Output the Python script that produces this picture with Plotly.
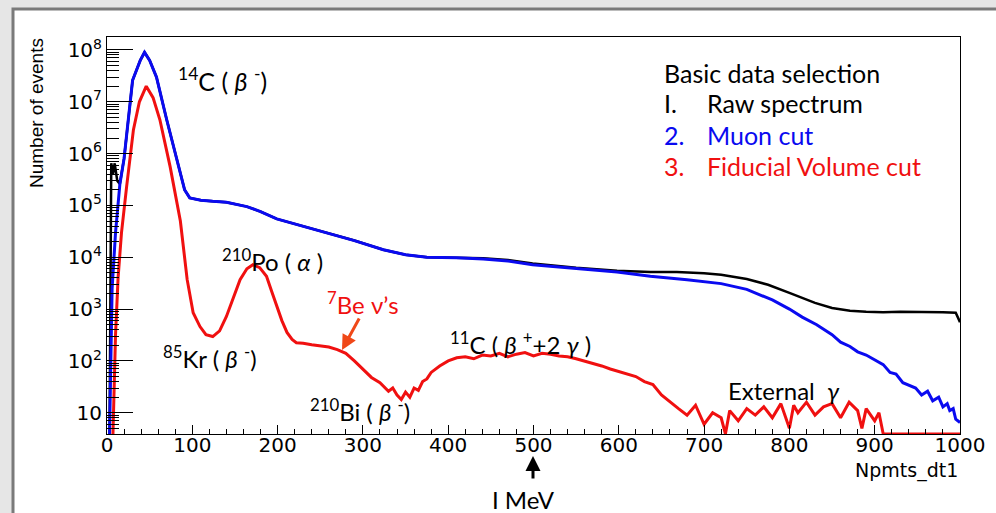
import plotly.graph_objects as go

# ---------------- data ----------------
raw_x = [3, 4, 5, 7, 9, 12, 15, 20, 25, 30, 39, 44, 50, 58, 70, 82, 91, 97, 110, 124, 140, 164, 180,
         199, 225, 250, 290, 324, 350, 375, 410, 441, 470, 499, 550, 598, 637, 668, 700, 720, 750,
         775, 800, 830, 850, 871, 890, 910, 930, 957, 980, 995, 1000]
raw_y = [3.9, 1.0e3, 6.5e5, 4.0e5, 6.5e5, 3.0e5, 2.6e5, 8.0e5, 4.0e6, 2.6e7, 6.3e7, 9.0e7, 6.3e7, 3.0e7,
         4.5e6, 7.6e5, 2.0e5, 1.4e5, 1.26e5, 1.2e5, 1.15e5, 9.5e4, 7.6e4,
         5.5e4, 4.2e4, 3.2e4, 2.1e4, 1.4e4, 1.12e4, 1.0e4, 9.9e3, 9.6e3, 8.9e3, 7.6e3, 6.3e3, 5.5e3,
         5.2e3, 5.2e3, 4.9e3, 4.6e3, 3.8e3, 2.95e3, 2.05e3, 1.32e3, 1.05e3, 9.3e2, 8.9e2, 8.7e2,
         8.9e2, 8.9e2, 8.7e2, 8.5e2, 5.6e2]

muon_x = [3, 6, 10, 15, 20, 25, 30, 39, 44, 50, 58, 70, 82, 91, 97, 110, 124, 140, 164, 180, 199,
          225, 250, 290, 324, 350, 375, 410, 441, 470, 499, 550, 598, 637, 680, 720, 750, 780, 800,
          815, 832, 850, 860, 871, 880, 890, 900, 910, 918, 925, 933, 941, 948, 955, 962, 968, 975,
          980, 985, 988, 992, 995, 1000]
muon_y = [3.9, 2.5e3, 3.0e4, 2.5e5, 8.0e5, 4.0e6, 2.6e7, 6.3e7, 9.0e7, 6.3e7, 3.0e7, 4.5e6, 7.6e5,
          2.0e5, 1.4e5, 1.26e5, 1.2e5, 1.15e5, 9.5e4, 7.6e4, 5.5e4,
          4.2e4, 3.2e4, 2.1e4, 1.4e4, 1.12e4, 1.0e4, 9.8e3, 9.3e3, 8.5e3, 7.2e3, 6.0e3, 5.2e3, 4.3e3,
          3.7e3, 3.1e3, 2.4e3, 1.5e3, 1.0e3,
          7.0e2, 5.0e2, 3.2e2, 2.3e2, 1.9e2, 1.5e2, 1.3e2, 1.05e2, 8.5e1, 6.0e1, 5.6e1, 3.8e1, 3.4e1,
          3.0e1, 2.2e1, 2.6e1, 1.7e1, 2.0e1, 1.3e1, 1.5e1, 1.1e1, 1.2e1, 7.5, 6.5]

fv_x = [7, 10, 13, 17, 23, 31, 38, 46, 54, 62, 74, 86, 94, 101, 109, 116, 124, 132, 140, 148, 156,
        164, 171, 179, 187, 193, 199, 205, 211, 217, 222, 230, 240, 250, 260, 270, 280, 290, 300,
        310, 320, 330, 335, 340, 345, 350, 355, 360, 365, 370, 375, 380, 390, 400, 410, 420, 430,
        440, 450, 460, 470, 480, 490, 500, 510, 520, 530, 540, 550, 560, 570, 580, 590, 600, 610,
        620, 630, 640, 650, 660, 670, 680, 690, 700, 710, 720, 725, 730, 740, 750, 760, 770, 780,
        790, 800, 805, 810, 820, 830, 840, 850, 860, 870, 880, 885, 890, 900, 905, 910, 920, 1000]
fv_y = [3.9, 3.2e2, 4.0e3, 3.0e4, 2.3e5, 2.9e6, 1.0e7, 2.0e7, 1.2e7, 4.5e6, 5.6e5, 5.0e4, 3.7e3,
        8.5e2, 4.6e2, 3.2e2, 2.95e2, 3.8e2, 7.2e2, 1.6e3, 3.7e3,
        6.0e3, 7.2e3, 6.3e3, 4.3e3, 2.2e3, 1.1e3, 6.0e2, 3.55e2, 2.6e2, 2.25e2, 2.2e2, 2.05e2, 1.95e2,
        1.85e2, 1.65e2, 1.4e2, 1.0e2, 7.0e1,
        4.8e1, 3.8e1, 2.6e1, 3.0e1, 2.2e1, 1.8e1, 2.5e1, 2.0e1, 3.0e1, 2.7e1, 4.0e1, 4.5e1, 6.0e1,
        8.0e1, 1.0e2, 1.15e2, 1.2e2, 1.1e2,
        1.3e2, 1.25e2, 1.4e2, 1.2e2, 1.35e2, 1.45e2, 1.25e2, 1.4e2, 1.35e2, 1.25e2, 1.2e2, 1.1e2,
        1.0e2, 9.0e1, 8.0e1, 7.0e1, 6.2e1, 5.5e1,
        5.0e1, 4.0e1, 3.5e1, 2.2e1, 1.6e1, 1.2e1, 9.0, 1.4e1, 6.0, 1.0e1, 8.0, 3.9, 1.1e1, 7.0, 1.2e1,
        9.0, 1.3e1, 8.0,
        1.5e1, 5.0, 1.4e1, 1.0e1, 1.6e1, 9.0, 1.3e1, 1.5e1, 8.0, 1.6e1, 1.1e1, 5.0, 1.2e1, 7.0, 1.0e1,
        3.9, 3.9, 3.9]

y_tickvals = [10, 1e2, 1e3, 1e4, 1e5, 1e6, 1e7, 1e8]
y_ticktext = ["10", "10<sup>2</sup>", "10<sup>3</sup>", "10<sup>4</sup>", "10<sup>5</sup>",
              "10<sup>6</sup>", "10<sup>7</sup>", "10<sup>8</sup>"]
y_minor = [m * 10 ** e for e in range(0, 9) for m in range(2, 10)]

# ---------------- figure ----------------
L, R, T, B = 107, 36, 37, 79
W, H = 996, 513
PW, PH = W - L - R, H - T - B


def px(xp):
    return (xp - L) / PW


def py(yp):
    return (H - B - yp) / PH


fig = go.Figure()
fig.add_trace(go.Scatter(x=raw_x, y=raw_y, mode="lines", line=dict(color="#000000", width=2.5),
                         name="Raw spectrum"))
fig.add_trace(go.Scatter(x=muon_x, y=muon_y, mode="lines", line=dict(color="#0a0af0", width=3),
                         name="Muon cut"))
fig.add_trace(go.Scatter(x=fv_x, y=fv_y, mode="lines", line=dict(color="#f01010", width=3),
                         name="Fiducial Volume cut"))

ann_font = "Lato, Open Sans, sans-serif"
tick_font = dict(family="DejaVu Sans", size=20, color="#000")

annotations = []


def label(text, xpix, ypix, size=24, color="#000", xanchor="left", family=ann_font):
    annotations.append(dict(x=px(xpix), y=py(ypix), xref="paper", yref="paper", text=text,
                            showarrow=False, xanchor=xanchor, yanchor="middle",
                            font=dict(family=family, size=size, color=color)))


label("<sup>14</sup>C ( <i>β</i> <sup>-</sup>)", 176, 80, size=25)
label("<sup>210</sup>Po ( <i>α</i> )", 220, 260)
label("<sup>85</sup>Kr ( <i>β</i> <sup>-</sup>)", 161, 357)
label("<sup>7</sup>Be ν’s", 325, 303, color="#f01010")
label("<sup>11</sup>C ( <i>β</i> <sup>+</sup>+2 <i>γ</i> )", 448, 343)
label("<sup>210</sup>Bi ( <i>β</i> <sup>-</sup>)", 308, 410)
label("External  <i>γ</i>", 726, 390)
label("I MeV", 523, 500, xanchor="center")

LS = 25
label("Basic data selection", 662, 73, size=LS)
label("I.", 662, 103, size=LS)
label("Raw spectrum", 705, 103, size=LS)
label("2.", 662, 135, size=LS, color="#0a0af0")
label("Muon cut", 705, 135, size=LS, color="#0a0af0")
label("3.", 662, 166, size=LS, color="#f01010")
label("Fiducial Volume cut", 705, 166, size=LS, color="#f01010")

label("Npmts_dt1", 960, 470, size=19, xanchor="right", family="DejaVu Sans")
annotations.append(dict(x=px(36), y=py(113), xref="paper", yref="paper", text="Number of events",
                        showarrow=False, textangle=-90, xanchor="center", yanchor="middle",
                        font=dict(family="Liberation Sans Narrow, Liberation Sans", size=19,
                                  color="#000")))

# arrows
annotations.append(dict(x=px(342), y=py(350), xref="paper", yref="paper", text="", showarrow=True,
                        ax=18, ay=-33, arrowhead=2, arrowsize=1, arrowwidth=3,
                        arrowcolor="#f04818"))
annotations.append(dict(x=px(533), y=py(456), xref="paper", yref="paper", text="", showarrow=True,
                        ax=0, ay=24, arrowhead=2, arrowsize=1, arrowwidth=3, arrowcolor="#000"))

fig.update_layout(
    width=W, height=H,
    margin=dict(l=L, r=R, t=T, b=B, pad=0),
    paper_bgcolor="#e6e6e6",
    plot_bgcolor="#ffffff",
    showlegend=False,
    annotations=annotations,
    shapes=[dict(type="rect", xref="paper", yref="paper", layer="below",
                 x0=px(13), x1=px(1010), y0=py(540), y1=py(9),
                 fillcolor="#ffffff", line=dict(color="#7a7a7a", width=3))],
)

fig.update_xaxes(range=[0, 1000], showgrid=False, zeroline=False, showline=True, linecolor="#000",
                 linewidth=1, mirror=True, ticks="inside", ticklen=9, tickwidth=1, tickcolor="#000",
                 tickvals=list(range(0, 1001, 100)), ticktext=[str(v) for v in range(0, 1001, 100)],
                 minor=dict(ticks="inside", ticklen=5, tickcolor="#000",
                            tickvals=list(range(0, 1001, 20))),
                 ticklabelstandoff=-7,
                 tickfont=tick_font)
fig.update_yaxes(type="log", range=[0.59, 8.25], showgrid=False, zeroline=False, showline=True,
                 linecolor="#000", linewidth=1, mirror=True, ticks="inside", ticklen=26,
                 tickwidth=1, tickcolor="#000", tickvals=y_tickvals, ticktext=y_ticktext,
                 minor=dict(ticks="inside", ticklen=12, tickcolor="#000", tickvals=y_minor,
                            showgrid=False),
                 tickfont=tick_font)

fig.write_html("out.html")
